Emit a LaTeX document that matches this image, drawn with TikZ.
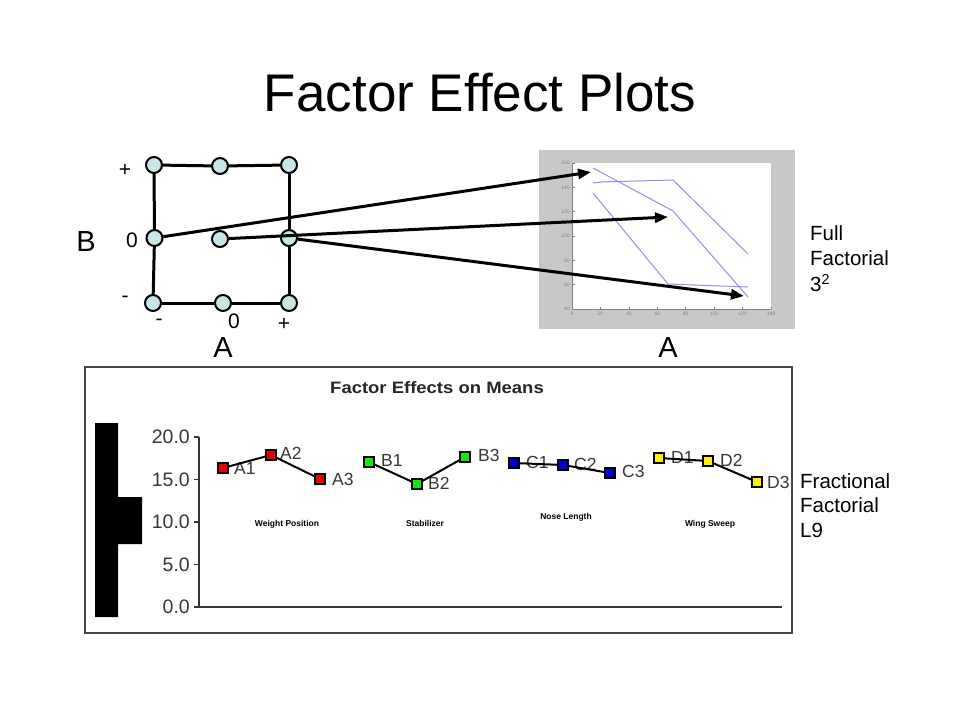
\documentclass[tikz,border=0pt]{standalone}
\usepackage{graphicx}
\usepackage{fontspec}
\setmainfont{Liberation Sans}
\usetikzlibrary{arrows.meta}
\definecolor{nodefill}{RGB}{200,230,230}
\definecolor{plotgray}{RGB}{200,200,200}
\definecolor{plotblue}{RGB}{145,145,230}
\definecolor{txtgray}{RGB}{55,55,55}
\definecolor{boxgray}{RGB}{70,70,70}
\definecolor{mkred}{RGB}{230,0,0}
\definecolor{mkgreen}{RGB}{20,230,20}
\definecolor{mkblue}{RGB}{0,0,210}
\definecolor{mkyellow}{RGB}{255,240,0}
\begin{document}
\begin{tikzpicture}[x=1pt,y=-1pt,
  gridpt/.style={circle, draw, line width=2pt, fill=nodefill, minimum size=16pt, inner sep=0},
  gridline/.style={line width=3pt},
  lbl/.style={inner sep=0, font=\fontsize{21}{24}\selectfont},
  bigl/.style={inner sep=0, font=\fontsize{29}{32}\selectfont},
  side/.style={inner sep=0, anchor=west, font=\fontsize{20.5}{24}\selectfont},
  arr/.style={line width=3pt, -{Triangle[length=13pt,width=10pt]}},
  mk/.style={rectangle, draw, line width=1.3pt, minimum size=10pt, inner sep=0},
  mklbl/.style={inner sep=0, anchor=west, text=txtgray, font=\fontsize{17.5}{19}\selectfont},
  ylab/.style={inner sep=0, anchor=east, text=txtgray, font=\fontsize{19.5}{22}\selectfont},
  cat/.style={inner sep=0, font=\bfseries\fontsize{8.5}{10}\selectfont},
  tick/.style={inner sep=0, text=gray, font=\fontsize{5}{6}\selectfont},
  blueline/.style={plotblue, line width=1pt},
  effline/.style={line width=2pt}
]
\useasboundingbox (0,0) rectangle (960,720);
\fill[white] (0,0) rectangle (960,720);

% Title
\node[inner sep=0, font=\fontsize{53}{60}\selectfont] (title) at (480,93) {Factor Effect Plots};

% ---------- top-right plot ----------
\fill[plotgray] (539,150) rectangle (795,329);
\fill[white] (572,163) rectangle (771,309);
\draw[gray, line width=0.6pt] (572,163) -- (572,309) -- (771,309);
\foreach \v/\yy in {160/163,140/187.3,120/211.7,100/236,80/260.3,60/284.7,40/309}{
  \draw[gray, line width=0.5pt] (572,\yy) -- (574.5,\yy);
  \node[tick, anchor=east] at (570,\yy) {\v};
}
\foreach \v/\xx in {0/572,20/600.4,40/628.9,60/657.3,80/685.7,100/714.1,120/742.6,140/771}{
  \draw[gray, line width=0.5pt] (\xx,309) -- (\xx,306.5);
  \node[tick] at (\xx,314) {\v};
}
\draw[blueline] (593,168) -- (673,211) -- (748,297);
\draw[blueline] (593,183) -- (601,182) -- (673,180) -- (748,254);
\draw[blueline] (593,193) -- (668,284) -- (748,287);
\node[bigl] (ax2) at (668,348) {A};

% ---------- 3x3 grid ----------
\node[gridpt] (g00) at (154,165) {};
\node[gridpt] (g01) at (220,166) {};
\node[gridpt] (g02) at (289,165) {};
\node[gridpt] (g10) at (154.5,238) {};
\node[gridpt] (g11) at (220,239) {};
\node[gridpt] (g12) at (289,238) {};
\node[gridpt] (g20) at (153,303) {};
\node[gridpt] (g21) at (223,303) {};
\node[gridpt] (g22) at (289,303) {};
\draw[gridline] (g00) -- (g01);
\draw[gridline] (g01) -- (g02);
\draw[gridline] (g20) -- (g21);
\draw[gridline] (g21) -- (g22);
\draw[gridline] (g00) -- (g10);
\draw[gridline] (g10) -- (g20);
\draw[gridline] (g02) -- (g12);
\draw[gridline] (g12) -- (g22);

\node[lbl] (bp) at (125,170) {+};
\node[lbl] (b0) at (132,240) {0};
\node[lbl] (bm) at (125,299) {-};
\node[bigl] (bB) at (86,242) {B};
\node[lbl] (am) at (159,322) {-};
\node[lbl] (a0) at (234,321) {0};
\node[lbl] (ap) at (284,324) {+};
\node[bigl] (aA) at (223,348) {A};

% arrows
\coordinate (t1) at (591,172);
\coordinate (t2) at (668,217);
\coordinate (t3) at (744,296);
\draw[arr] (g10) -- (t1);
\draw[arr] (g11) -- (t2);
\draw[arr] (g12) -- (t3);

% right labels (top)
\node[side] (f1) at (810,233) {Full};
\node[side] (f2) at (810,258) {Factorial};
\node[side] (f3) at (810,283) {3\textsuperscript{2}};

% ---------- bottom chart ----------
\draw[boxgray, line width=2pt] (85,367) rectangle (792,633);
\node[inner sep=0, text=black!85, font=\bfseries\fontsize{16.5}{19}\selectfont] (ctitle) at (437,388) {\scalebox{1.12}[1]{Factor Effects on Means}};

\fill[black] (95,423) -- (118,423) -- (118,497) -- (142,497) -- (142,544) -- (118,544) -- (118,617) -- (95,617) -- cycle;

\draw[txtgray, line width=1.5pt] (199,437) -- (199,607) -- (782,607);
\foreach \t/\yy in {20.0/437,15.0/479.5,10.0/522,5.0/564.5,0.0/607}{
  \draw[txtgray, line width=1.2pt] (194,\yy) -- (199,\yy);
  \node[ylab] at (190,\yy) {\t};
}

\node[cat] (c1) at (287,524) {Weight Position};
\node[cat] (c2) at (425,523) {Stabilizer};
\node[cat] (c3) at (566,517) {Nose Length};
\node[cat] (c4) at (710,524) {Wing Sweep};

% marker labels
\node[mklbl] at (234,468) {A1};
\node[mklbl] at (280,453) {A2};
\node[mklbl] at (332,479) {A3};
\node[mklbl] at (381,460) {B1};
\node[mklbl] at (428,483) {B2};
\node[mklbl] at (478,455) {B3};
\node[mklbl] at (526,462) {C1};
\node[mklbl] at (574,464) {C2};
\node[mklbl] at (622,471) {C3};
\node[mklbl] at (671,457) {D1};
\node[mklbl] at (720,460) {D2};
\node[mklbl] at (767,482) {D3};

% markers
\node[mk, fill=mkred] (a1) at (223,468) {};
\node[mk, fill=mkred] (a2) at (271,455) {};
\node[mk, fill=mkred] (a3) at (320,479) {};
\node[mk, fill=mkgreen] (b1) at (369,462) {};
\node[mk, fill=mkgreen] (b2) at (417,484) {};
\node[mk, fill=mkgreen] (b3) at (465,457) {};
\node[mk, fill=mkblue] (cc1) at (514,463) {};
\node[mk, fill=mkblue] (cc2) at (563,465) {};
\node[mk, fill=mkblue] (cc3) at (610,473) {};
\node[mk, fill=mkyellow] (d1) at (659,458) {};
\node[mk, fill=mkyellow] (d2) at (708,461) {};
\node[mk, fill=mkyellow] (d3) at (757,482) {};
\draw[effline] (a1) -- (a2) -- (a3);
\draw[effline] (b1) -- (b2) -- (b3);
\draw[effline] (cc1) -- (cc2) -- (cc3);
\draw[effline] (d1) -- (d2) -- (d3);

% right labels (bottom)
\node[side] (r1) at (800,481) {Fractional};
\node[side] (r2) at (800,505) {Factorial};
\node[side] (r3) at (800,530) {L9};
\end{tikzpicture}
\end{document}
